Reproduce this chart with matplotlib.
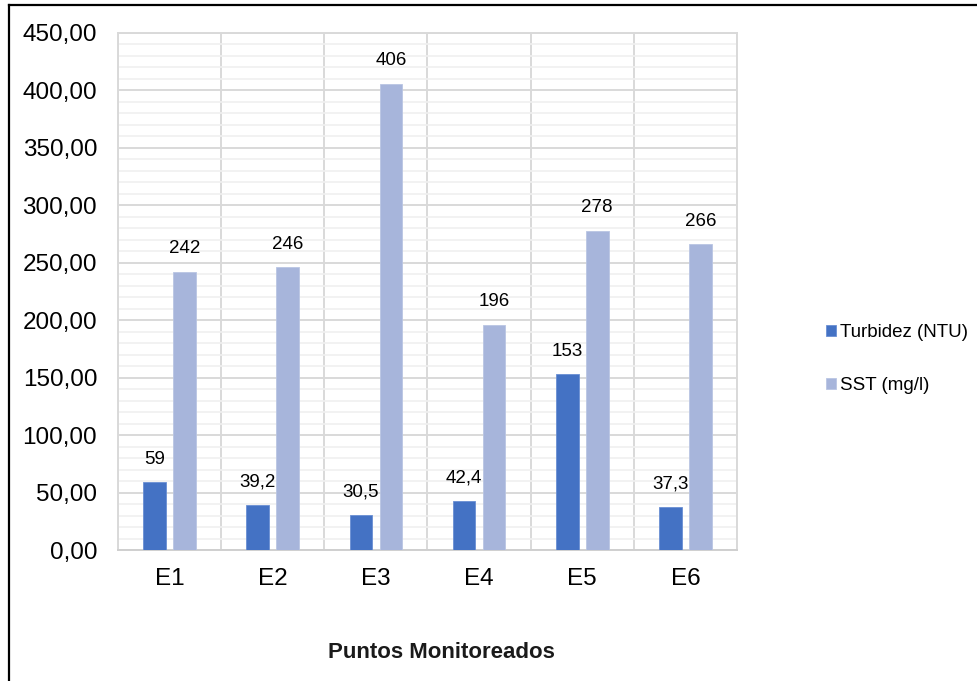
import matplotlib
matplotlib.use("Agg")
import matplotlib.pyplot as plt
from matplotlib.lines import Line2D
from matplotlib.ticker import MultipleLocator, FuncFormatter
import numpy as np

categories = ["E1", "E2", "E3", "E4", "E5", "E6"]
turbidez = [59, 39.2, 30.5, 42.4, 153, 37.3]
sst = [242, 246, 406, 196, 278, 266]
series_names = ["Turbidez (NTU)", "SST (mg/l)"]
xlabel = "Puntos Monitoreados"

plt.rcParams['font.family'] = ['Liberation Sans', 'DejaVu Sans']

fig = plt.figure(figsize=(9.78, 6.81), dpi=100)
ax = fig.add_axes([118/978, 1-550/681, (737-118)/978, (550-33)/681])

x = np.arange(len(categories))
w = 0.22
off = 0.145
c1 = "#4472C4"
c2 = "#A7B5DB"
b1 = ax.bar(x - off, turbidez, w, color=c1, edgecolor="#6A8FD3", linewidth=0.6, label=series_names[0], zorder=3)
b2 = ax.bar(x + off, sst, w, color=c2, edgecolor="#B9C5E3", linewidth=0.6, label=series_names[1], zorder=3)

def fmt(v):
    return ("%g" % v).replace(".", ",")

for bars, vals in ((b1, turbidez), (b2, sst)):
    for rect, v in zip(bars, vals):
        ax.annotate(fmt(v), (rect.get_x() + rect.get_width()/2, v), xytext=(0, 10.5),
                    textcoords="offset points", ha="center", va="bottom", fontsize=13.5, color="#000000")

ax.set_xlim(-0.5, len(categories) - 0.5)
ax.set_ylim(0, 450)
ax.yaxis.set_major_locator(MultipleLocator(50))
ax.yaxis.set_minor_locator(MultipleLocator(10))
ax.yaxis.set_major_formatter(FuncFormatter(lambda v, p: ("%.2f" % v).replace(".", ",")))
ax.set_xticks(x)
ax.set_xticklabels(categories)
ax.tick_params(axis="y", which="both", length=0, labelsize=17.5, pad=15)
ax.tick_params(axis="x", which="both", length=0, labelsize=17.5, pad=13)

ax.grid(axis="y", which="minor", color="#F0F0F0", linewidth=1.2, zorder=0)
ax.grid(axis="y", which="major", color="#D9D9D9", linewidth=1.4, zorder=1)
for b in np.arange(-0.5, len(categories) + 0.5, 1.0):
    ax.axvline(b, color="#D9D9D9", linewidth=1.4, zorder=1)
for s in ax.spines.values():
    s.set_color("#D9D9D9")
    s.set_linewidth(1.4)
ax.spines["bottom"].set_color("#CFCFCF")

leg = fig.legend(handles=[b1, b2], labels=series_names, loc="center left",
                 bbox_to_anchor=(809/978, 1-359/681), frameon=False, fontsize=13.5,
                 handlelength=0.55, handleheight=0.55, handletextpad=0.2, labelspacing=1.9)

fig.text(441/978, 1-652/681, xlabel, ha="center", va="center", fontsize=16,
         fontweight="bold", color="#1a1a1a")

fig.add_artist(Line2D([8.5/978, 8.5/978], [0, 1-5/681], color="black", linewidth=1.6, transform=fig.transFigure))
fig.add_artist(Line2D([8.5/978, 1], [1-5/681, 1-5/681], color="black", linewidth=1.6, transform=fig.transFigure))

fig.savefig("out.png", dpi=100)
